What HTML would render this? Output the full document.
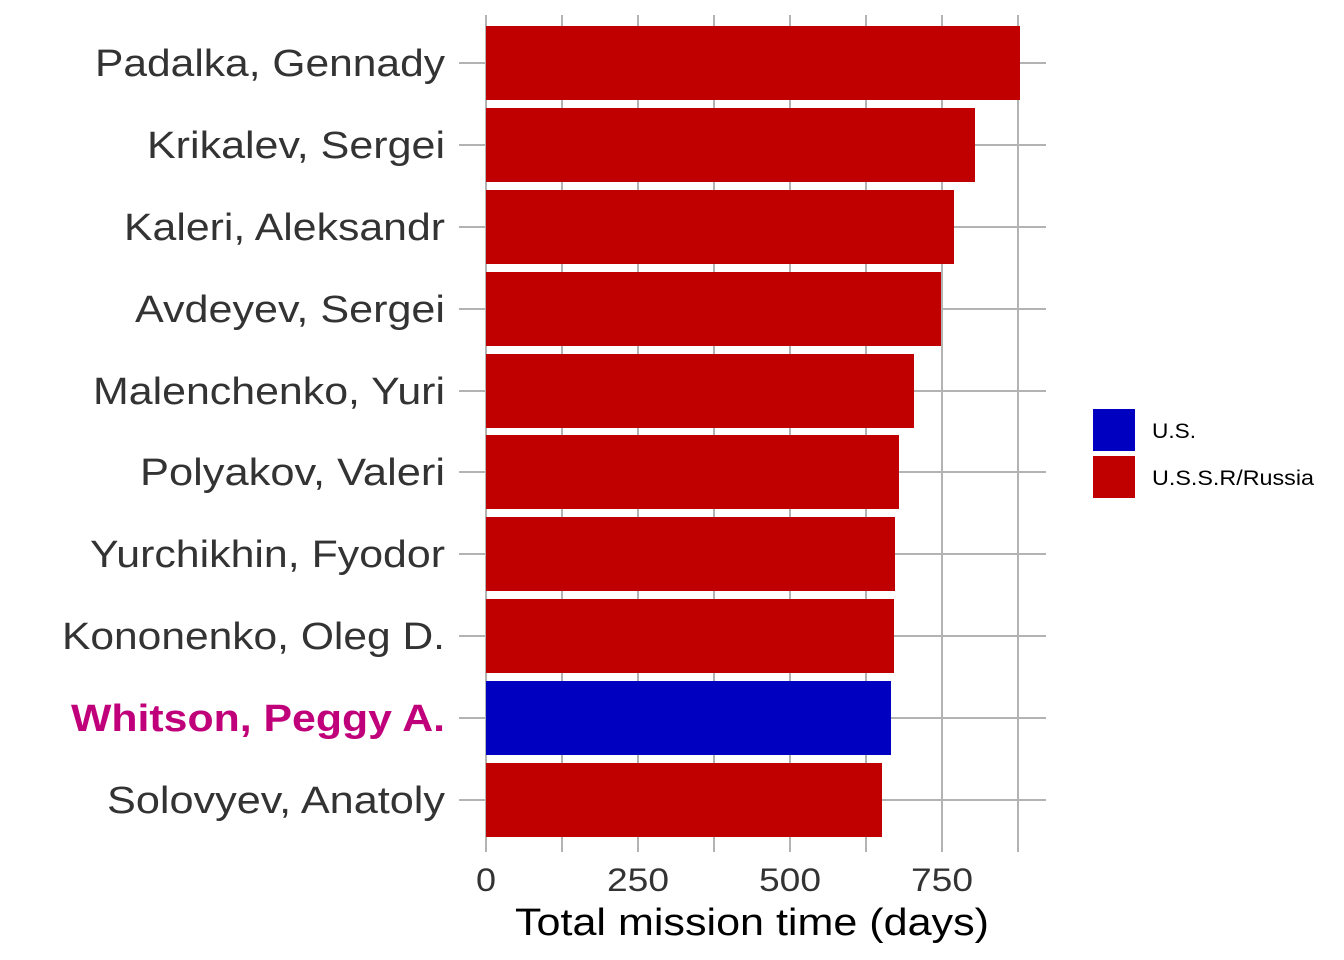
<!DOCTYPE html>
<html><head><meta charset="utf-8"><style>body{margin:0;background:#fff}svg{display:block}text{font-family:"Liberation Sans",Arial,sans-serif}</style></head>
<body>
<svg width="1344" height="960" viewBox="0 0 1344 960">
<g stroke="#b3b3b3" stroke-width="2">
<line x1="486" y1="15" x2="486" y2="852"/><line x1="562" y1="15" x2="562" y2="852"/>
<line x1="638" y1="15" x2="638" y2="852"/><line x1="714" y1="15" x2="714" y2="852"/>
<line x1="790" y1="15" x2="790" y2="852"/><line x1="866" y1="15" x2="866" y2="852"/>
<line x1="942" y1="15" x2="942" y2="852"/><line x1="1018" y1="15" x2="1018" y2="852"/>
<line x1="459" y1="63" x2="1046" y2="63"/><line x1="459" y1="145" x2="1046" y2="145"/>
<line x1="459" y1="227" x2="1046" y2="227"/><line x1="459" y1="309" x2="1046" y2="309"/>
<line x1="459" y1="391" x2="1046" y2="391"/><line x1="459" y1="472" x2="1046" y2="472"/>
<line x1="459" y1="554" x2="1046" y2="554"/><line x1="459" y1="636" x2="1046" y2="636"/>
<line x1="459" y1="718" x2="1046" y2="718"/><line x1="459" y1="800" x2="1046" y2="800"/>
</g>
<g fill="#c00000">
<rect x="486" y="26" width="534" height="74"/>
<rect x="486" y="108" width="489" height="74"/>
<rect x="486" y="190" width="468" height="74"/>
<rect x="486" y="272" width="455" height="74"/>
<rect x="486" y="354" width="428" height="74"/>
<rect x="486" y="435" width="413" height="74"/>
<rect x="486" y="517" width="409" height="74"/>
<rect x="486" y="599" width="408" height="74"/>
<rect x="486" y="763" width="396" height="74"/>
</g>
<rect x="486" y="681" width="405" height="74" fill="#0000c0"/>
<g font-size="38" fill="#333" lengthAdjust="spacingAndGlyphs">
<text x="95" y="76" textLength="350" lengthAdjust="spacingAndGlyphs">Padalka, Gennady</text>
<text x="147" y="158" textLength="298" lengthAdjust="spacingAndGlyphs">Krikalev, Sergei</text>
<text x="124" y="240" textLength="321" lengthAdjust="spacingAndGlyphs">Kaleri, Aleksandr</text>
<text x="135" y="322" textLength="310" lengthAdjust="spacingAndGlyphs">Avdeyev, Sergei</text>
<text x="93" y="404" textLength="352" lengthAdjust="spacingAndGlyphs">Malenchenko, Yuri</text>
<text x="140" y="485" textLength="305" lengthAdjust="spacingAndGlyphs">Polyakov, Valeri</text>
<text x="90" y="567" textLength="355" lengthAdjust="spacingAndGlyphs">Yurchikhin, Fyodor</text>
<text x="62" y="649" textLength="383" lengthAdjust="spacingAndGlyphs">Kononenko, Oleg D.</text>
<text x="71" y="731" textLength="374" lengthAdjust="spacingAndGlyphs" fill="#c0007a" font-weight="bold">Whitson, Peggy A.</text>
<text x="107" y="813" textLength="338" lengthAdjust="spacingAndGlyphs">Solovyev, Anatoly</text>
</g>
<g font-size="32" fill="#333">
<text x="476" y="891" textLength="20" lengthAdjust="spacingAndGlyphs">0</text>
<text x="607" y="891" textLength="62" lengthAdjust="spacingAndGlyphs">250</text>
<text x="759" y="891" textLength="62" lengthAdjust="spacingAndGlyphs">500</text>
<text x="911" y="891" textLength="62" lengthAdjust="spacingAndGlyphs">750</text>
</g>
<text x="515" y="935" font-size="38" fill="#000" textLength="474" lengthAdjust="spacingAndGlyphs">Total mission time (days)</text>
<rect x="1093" y="409" width="42" height="42" fill="#0000c0"/>
<rect x="1093" y="456" width="42" height="42" fill="#c00000"/>
<g font-size="21" fill="#000"><text x="1152" y="438" textLength="44" lengthAdjust="spacingAndGlyphs">U.S.</text><text x="1152" y="485" textLength="162" lengthAdjust="spacingAndGlyphs">U.S.S.R/Russia</text></g>
</svg>
</body></html>
